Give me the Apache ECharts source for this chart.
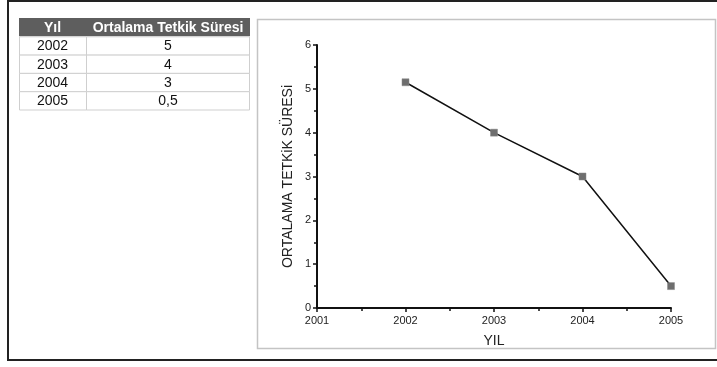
<!DOCTYPE html>
<html>
<head>
<meta charset="utf-8">
<script src="https://cdn.jsdelivr.net/npm/echarts@6/dist/echarts.min.js"></script>
<style>
html,body{margin:0;padding:0;background:#fff;}
#c{width:717px;height:367px;}
</style>
</head>
<body>
<div id="c"></div>
<script>
// Table data
var tableHeader = ['Yıl', 'Ortalama Tetkik Süresi'];
var tableYears = ['2002', '2003', '2004', '2005'];
var tableValues = ['5', '4', '3', '0,5'];

// Plot data
var years = [2002, 2003, 2004, 2005];
var values = [5.15, 4.0, 3.0, 0.5];
var xAxisName = 'YIL';
var yAxisName = 'ORTALAMA TETKiK SÜRESi';

var FONT = '"Liberation Sans", Arial, sans-serif';
var chart = echarts.init(document.getElementById('c'), null, {renderer: 'canvas'});

// Build table graphic
var tX = 19, tW = 231, col1 = 67, tY = 18, rowH = 18.3;
var g = [];
// outer frame
g.push({type: 'rect', shape: {x: 8, y: 1, width: 712, height: 359}, style: {fill: 'none', stroke: '#222', lineWidth: 2}, silent: true});
// chart panel border
g.push({type: 'rect', shape: {x: 257.5, y: 19.5, width: 458, height: 329}, style: {fill: 'none', stroke: '#c4c4c4', lineWidth: 1.5}, silent: true});
// header
g.push({type: 'rect', shape: {x: tX, y: tY, width: tW, height: rowH}, style: {fill: '#5e5e5e'}});
g.push({type: 'text', x: tX + col1 / 2, y: tY + rowH / 2 + 0.5, style: {text: tableHeader[0], fill: '#fff', font: 'bold 14px ' + FONT, textAlign: 'center', textVerticalAlign: 'middle'}});
g.push({type: 'text', x: tX + col1 + (tW - col1) / 2, y: tY + rowH / 2 + 0.5, style: {text: tableHeader[1], fill: '#fff', font: 'bold 14px ' + FONT, textAlign: 'center', textVerticalAlign: 'middle'}});
for (var i = 0; i < tableYears.length; i++) {
  var y0 = tY + rowH * (i + 1);
  g.push({type: 'rect', shape: {x: tX + 0.5, y: y0 + 0.5, width: col1, height: rowH}, style: {fill: '#fff', stroke: '#cfcfcf', lineWidth: 1}});
  g.push({type: 'rect', shape: {x: tX + col1 + 0.5, y: y0 + 0.5, width: tW - col1 - 1, height: rowH}, style: {fill: '#fff', stroke: '#cfcfcf', lineWidth: 1}});
  g.push({type: 'text', x: tX + col1 / 2, y: y0 + rowH / 2 + 1, style: {text: tableYears[i], fill: '#111', font: '14px ' + FONT, textAlign: 'center', textVerticalAlign: 'middle'}});
  g.push({type: 'text', x: tX + col1 + (tW - col1) / 2, y: y0 + rowH / 2 + 1, style: {text: tableValues[i], fill: '#111', font: '14px ' + FONT, textAlign: 'center', textVerticalAlign: 'middle'}});
}

var data = years.map(function (y, i) { return [y, values[i]]; });

chart.setOption({
  animation: false,
  backgroundColor: '#fff',
  graphic: g,
  grid: {left: 317, right: 46, top: 45, bottom: 59, containLabel: false},
  xAxis: {
    type: 'value', min: 2001, max: 2005, interval: 1,
    name: xAxisName, nameLocation: 'middle', nameGap: 26,
    nameTextStyle: {fontFamily: FONT, fontSize: 14, color: '#222'},
    axisLine: {show: true, onZero: false, lineStyle: {color: '#111', width: 2}},
    axisTick: {show: true, length: 4, lineStyle: {color: '#111', width: 1.5}},
    minorTick: {show: true, splitNumber: 2, length: 3, lineStyle: {color: '#111', width: 1.5}},
    axisLabel: {fontFamily: FONT, fontSize: 11, color: '#222', margin: 7, formatter: function (v) { return String(v); }},
    splitLine: {show: false}
  },
  yAxis: {
    type: 'value', min: 0, max: 6, interval: 1,
    name: yAxisName, nameLocation: 'middle', nameGap: 22, nameRotate: 90,
    nameTextStyle: {fontFamily: FONT, fontSize: 14, color: '#222'},
    axisLine: {show: true, onZero: false, lineStyle: {color: '#111', width: 2}},
    axisTick: {show: true, length: 4, lineStyle: {color: '#111', width: 1.5}},
    minorTick: {show: true, splitNumber: 2, length: 3, lineStyle: {color: '#111', width: 1.5}},
    axisLabel: {fontFamily: FONT, fontSize: 11, color: '#222', margin: 6},
    splitLine: {show: false}
  },
  series: [{
    type: 'line',
    data: data,
    symbol: 'rect',
    symbolSize: 7,
    lineStyle: {color: '#111', width: 1.5},
    itemStyle: {color: '#6e6e6e', borderColor: '#888', borderWidth: 0.5},
    z: 3
  }]
});
</script>
</body>
</html>
